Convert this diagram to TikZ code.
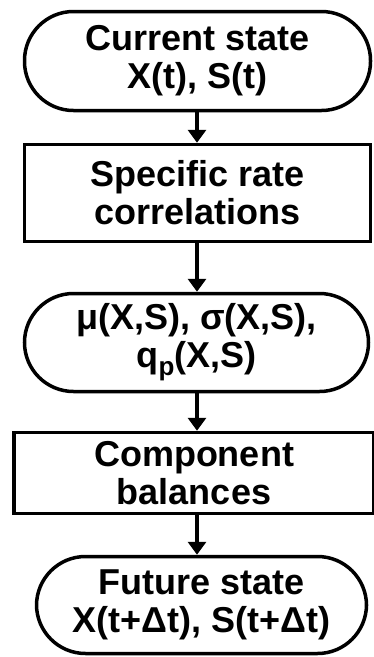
\documentclass[tikz,border=0pt]{standalone}
\usepackage{fontspec}
\setmainfont{Liberation Sans}
\usetikzlibrary{arrows.meta}

\begin{document}
\begin{tikzpicture}[x=1pt,y=1pt]
    \tikzset{pill/.style = {shape=rectangle,draw,line width=3.5pt,rounded corners=49pt,align=center,inner sep=0pt}}
    \tikzset{box/.style = {shape=rectangle,draw,line width=3.5pt,align=center,inner sep=0pt}}
    \tikzset{label/.style = {font=\bfseries\fontsize{36}{38}\selectfont}}
    \tikzset{edge/.style = {line width=4pt,-{Triangle[width=18pt,length=13pt]}}}

    \useasboundingbox (0,0) rectangle (374,-657);

    % vertices
    \coordinate (axis) at (197,0);

    \node[pill,label,minimum width=346pt,minimum height=99pt] (cur) at (197.5,-61) {Current state\\X(t), S(t)};
    \node[box,label,minimum width=346pt,minimum height=97pt] (rate) at (197.5,-193) {Specific rate\\correlations};
    \node[pill,label,minimum width=344pt,minimum height=98pt] (par) at (196.5,-342.5) {μ(X,S), σ(X,S),\\q\raisebox{-8pt}{\fontsize{26}{26}\selectfont p}(X,S)};
\node[box,label,minimum width=360pt,minimum height=81pt] (bal) at (194,-473) {Component\\balances};
\node[pill,label,minimum width=330pt,minimum height=97pt] (fut) at (201.5,-605) {Future state\\X(t+Δt), S(t+Δt)};

    % edges
    \draw[edge] (cur.south -| axis) to (rate.north -| axis);
    \draw[edge] (rate.south -| axis) to (par.north -| axis);
    \draw[edge] (par.south -| axis) to (bal.north -| axis);
    \draw[edge] (bal.south -| axis) to (fut.north -| axis);
\end{tikzpicture}
\end{document}
